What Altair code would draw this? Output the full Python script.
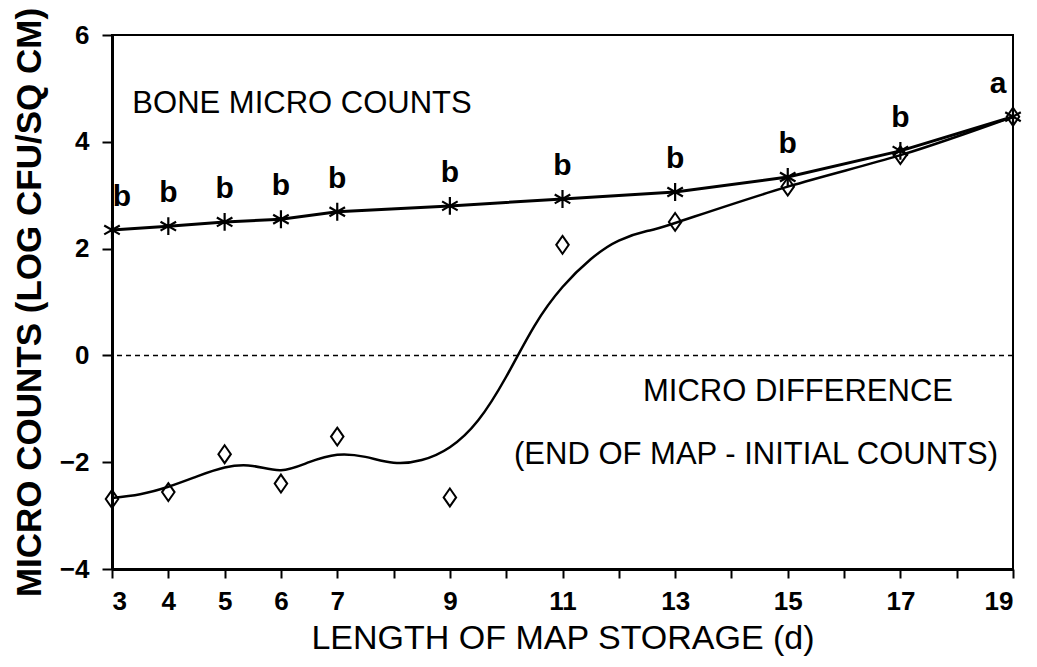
import altair as alt
import pandas as pd

# ---- data ----
days = [3, 4, 5, 6, 7, 9, 11, 13, 15, 17, 19]
bone_counts = [2.35, 2.42, 2.50, 2.55, 2.69, 2.80, 2.93, 3.06, 3.34, 3.83, 4.47]
micro_diff = [-2.69, -2.56, -1.85, -2.40, -1.52, -2.66, 2.07, 2.50, 3.16, 3.75, 4.47]
letters = ["b", "b", "b", "b", "b", "b", "b", "b", "b", "b", "a"]

curve_days = [3, 3.5, 4, 4.5, 5, 5.5, 6, 6.5, 7, 7.5, 8, 8.5, 9, 9.5, 10, 10.5,
              11, 11.5, 12, 12.5, 13, 15, 17, 19]
curve_vals = [-2.67, -2.60, -2.46, -2.27, -2.10, -2.07, -2.15, -2.00, -1.86, -1.90,
              -2.01, -1.96, -1.72, -1.22, -0.40, 0.55, 1.28, 1.80, 2.15, 2.33,
              2.48, 3.16, 3.75, 4.47]

x_ticks = list(range(3, 20))
x_unlabeled = [8, 10, 12, 14, 16, 18]
y_ticks = [-4, -2, 0, 2, 4, 6]

FONT = "Liberation Sans"

pts = pd.DataFrame({"day": days, "bone": bone_counts, "diff": micro_diff, "letter": letters})
curve = pd.DataFrame({"day": curve_days, "val": curve_vals})

xscale = alt.Scale(domain=[3, 19], nice=False, zero=False)
yscale = alt.Scale(domain=[-4, 6], nice=False, zero=False)

xaxis = alt.Axis(
    values=x_ticks, format="d",
    labelExpr="indexof(%s, datum.value) >= 0 ? '' : datum.label" % str(x_unlabeled),
    title="LENGTH OF MAP STORAGE (d)",
    tickSize=9, tickWidth=2, domainWidth=3, tickColor="black", domainColor="black",
    labelFontSize=26, labelFontWeight="bold", labelPadding=10, labelColor="black",
    labelFont=FONT, titleFont=FONT, titleFontSize=34, titleFontWeight="normal",
    titleColor="black", titlePadding=7, grid=False,
)
yaxis = alt.Axis(
    values=y_ticks, format="d",
    title="MICRO COUNTS (LOG CFU/SQ CM)",
    tickSize=10, tickWidth=2, domainWidth=3, tickColor="black", domainColor="black",
    labelFontSize=26, labelFontWeight="bold", labelPadding=13, labelColor="black",
    labelFont=FONT, titleFont=FONT, titleFontSize=35, titleFontWeight="bold",
    titleColor="black", titlePadding=12, grid=False,
)

X = alt.X("day:Q", scale=xscale, axis=xaxis)

zero_rule = alt.Chart(pd.DataFrame({"z": [0]})).mark_rule(
    color="black", strokeWidth=1.5, strokeDash=[5, 4]
).encode(y=alt.Y("z:Q", scale=yscale, axis=yaxis))

bone_line = alt.Chart(pts).mark_line(color="black", strokeWidth=3).encode(
    x=X, y=alt.Y("bone:Q", scale=yscale)
)

diff_curve = alt.Chart(curve).mark_line(
    color="black", strokeWidth=2.5, interpolate="natural"
).encode(x=alt.X("day:Q", scale=xscale), y=alt.Y("val:Q", scale=yscale))

ASTERISK = "M0,-1L0,1M-0.87,-0.5L0.87,0.5M-0.87,0.5L0.87,-0.5"
DIAMOND = "M0,-1L0.7,0L0,1L-0.7,0Z"

bone_pts = alt.Chart(pts).mark_point(
    shape=ASTERISK, size=320, color="black", strokeWidth=2.2, filled=False, opacity=1
).encode(x=alt.X("day:Q", scale=xscale), y=alt.Y("bone:Q", scale=yscale))

diff_pts = alt.Chart(pts).mark_point(
    shape=DIAMOND, size=320, color="black", strokeWidth=2, filled=False, opacity=1
).encode(x=alt.X("day:Q", scale=xscale), y=alt.Y("diff:Q", scale=yscale))

def letter_layer(filter_expr, dx):
    return alt.Chart(pts).transform_filter(filter_expr).mark_text(
        font=FONT, fontSize=30, fontWeight="bold", color="black",
        baseline="middle", dy=-33, dx=dx
    ).encode(x=alt.X("day:Q", scale=xscale), y=alt.Y("bone:Q", scale=yscale), text="letter:N")

letters_mid = letter_layer("datum.day > 3 && datum.day < 19", 0)
letters_first = letter_layer("datum.day == 3", 10)
letters_last = letter_layer("datum.day == 19", -15)

def note(txt, x, y):
    return alt.Chart(pd.DataFrame({"t": [txt]})).mark_text(
        font=FONT, fontSize=31, color="black", align="center", baseline="middle"
    ).encode(x=alt.value(x), y=alt.value(y), text="t:N")

notes = (
    note("BONE MICRO COUNTS", 190, 69)
    + note("MICRO DIFFERENCE", 686, 357)
    + note("(END OF MAP - INITIAL COUNTS)", 644, 420)
)

chart = alt.layer(
    zero_rule, bone_line, diff_curve, bone_pts, diff_pts,
    letters_mid, letters_first, letters_last, notes
).properties(
    width=901, height=534,
    autosize=alt.AutoSizeParams(type="none"),
    padding={"left": 104, "top": 27, "right": 16, "bottom": 90},
    background="white",
).configure_view(stroke="black", strokeWidth=2)

chart.save("out.html", embed_options={"renderer": "svg", "actions": False})
